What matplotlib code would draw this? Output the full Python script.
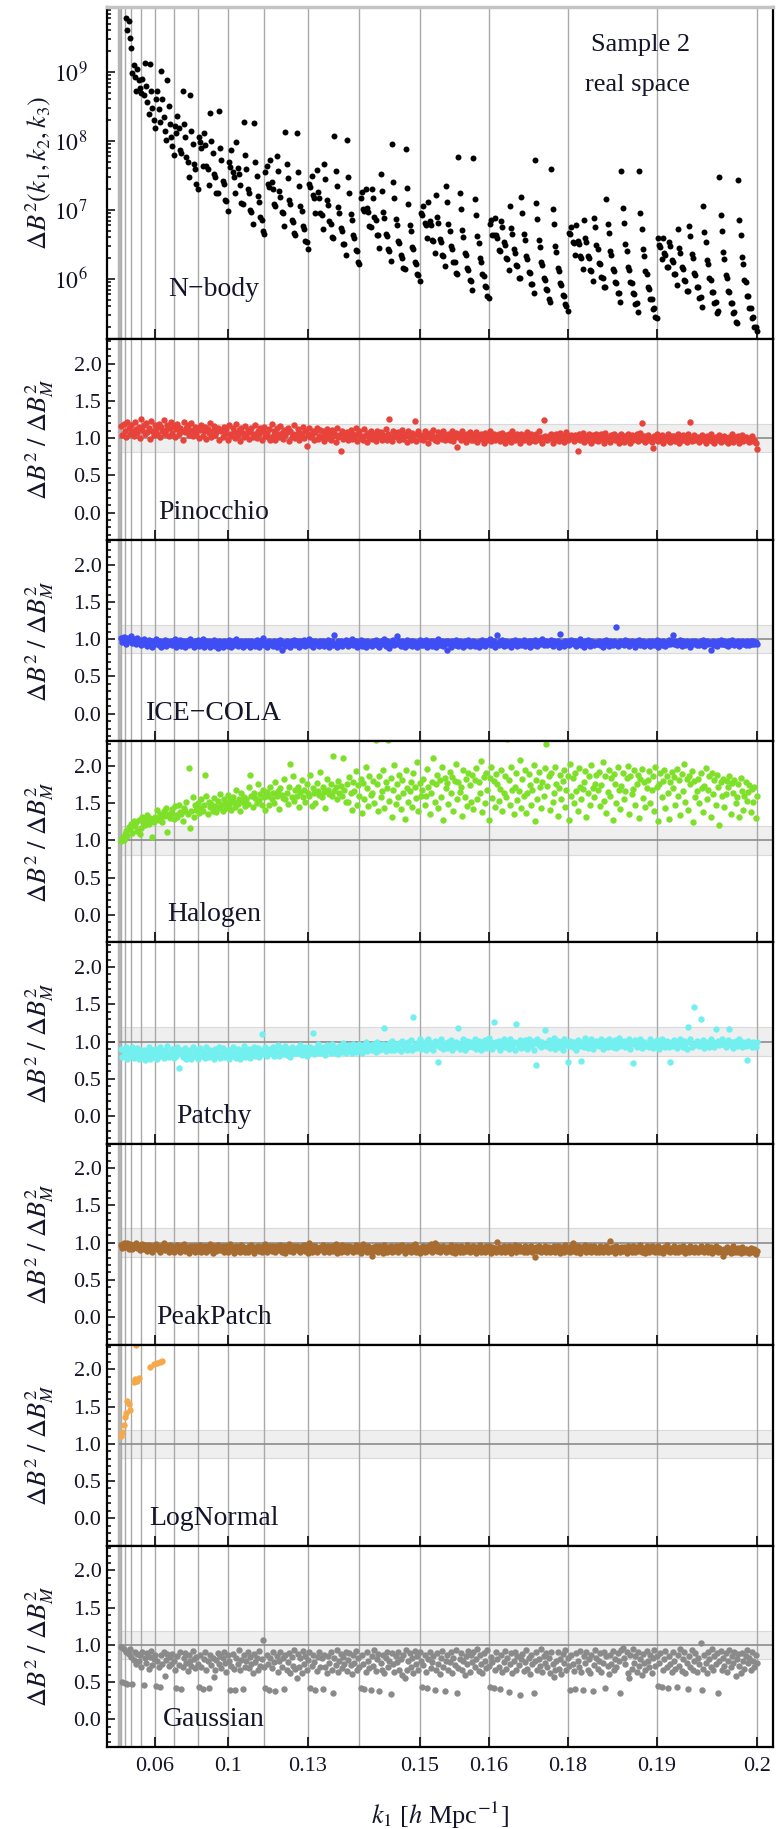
import numpy as np
import matplotlib
matplotlib.use("Agg")
import matplotlib.pyplot as plt
from matplotlib.ticker import MultipleLocator, LogLocator, NullFormatter, FuncFormatter

plt.rcParams['font.family'] = ['Liberation Serif', 'DejaVu Serif']
plt.rcParams['mathtext.fontset'] = 'stix'

# triangles per k1 bin (dk = 0.0125 h/Mpc), in plotting order
tri_per_bin = [1, 3, 5, 8, 11, 15, 19, 24, 29, 35, 41, 48, 55, 63, 71, 80]
# bins whose last triangle carries a k1 label
k1_tick_bins = [4, 7, 9, 11, 12, 13, 14, 15]
k1_tick_labels = ['0.06', '0.1', '0.13', '0.15', '0.16', '0.18', '0.19', '0.2']

# N-body variance, log10 of Delta B^2 (first four are above the frame)
nbody_log10 = [
    10.3, 10.2, 10.1, 10.05,
    9.78, 9.60, 9.74, 9.49, 9.34,
    8.98, 9.10, 8.93, 8.72, 9.04, 8.88, 8.76, 8.69,
    8.90, 8.66, 9.13, 8.80, 8.56, 8.39, 9.11, 8.72, 8.48, 8.31, 8.18,
    8.61, 8.72, 8.46, 8.27, 9.01, 8.60, 8.34, 8.15, 8.01, 8.88, 8.50, 8.24, 8.06, 7.92, 7.80,
    8.22, 8.12, 8.36, 8.18, 7.87, 7.82, 8.73, 8.24, 8.06, 7.76, 7.70, 7.47, 8.66, 8.14, 7.96,
    7.66, 7.60, 7.37, 7.31,
    8.06, 7.98, 7.90, 7.63, 8.12, 7.94, 7.64, 7.59, 7.36, 8.40, 8.00, 7.82, 7.52, 7.47, 7.24,
    7.24, 8.43, 7.89, 7.72, 7.42, 7.37, 7.14, 7.13, 6.99,
    7.70, 7.62, 7.87, 7.55, 7.48, 7.24, 7.98, 7.61, 7.52, 7.36, 7.10, 7.09, 8.28, 7.80, 7.60,
    7.31, 7.24, 7.00, 6.97, 6.80, 8.26, 7.70, 7.49, 7.20, 7.12, 6.90, 6.86, 6.70, 6.65,
    7.55, 7.64, 7.38, 7.33, 7.72, 7.40, 7.31, 7.09, 7.06, 7.78, 7.57, 7.27, 7.19, 6.97, 6.95,
    6.76, 8.13, 7.66, 7.46, 7.15, 7.09, 6.86, 6.83, 6.66, 6.64, 8.11, 7.55, 7.35, 7.05, 6.98,
    6.76, 6.72, 6.55, 6.54, 6.43,
    7.38, 7.33, 7.49, 7.22, 7.17, 6.96, 7.58, 7.26, 7.18, 6.95, 6.92, 6.73, 7.67, 7.45, 7.14,
    7.07, 6.84, 6.80, 6.61, 6.60, 8.07, 7.57, 7.35, 7.04, 6.96, 6.74, 6.70, 6.51, 6.50, 6.35,
    8.02, 7.47, 7.25, 6.94, 6.86, 6.63, 6.60, 6.42, 6.40, 6.25, 6.22,
    7.18, 7.26, 7.02, 6.99, 7.30, 7.03, 6.97, 6.76, 6.75, 7.31, 7.17, 6.90, 6.85, 6.64, 6.63,
    6.45, 7.52, 7.28, 6.97, 6.88, 6.65, 6.62, 6.44, 6.41, 6.26, 7.95, 7.41, 7.18, 6.87, 6.78,
    6.55, 6.52, 6.34, 6.31, 6.16, 6.15, 7.88, 7.32, 7.09, 6.78, 6.69, 6.47, 6.43, 6.25, 6.22,
    6.07, 6.06, 5.97,
    6.96, 6.93, 7.06, 6.81, 6.78, 6.60, 7.11, 6.84, 6.78, 6.57, 6.55, 6.37, 7.22, 6.90, 6.81,
    6.58, 6.54, 6.35, 6.33, 6.19, 7.34, 7.11, 6.80, 6.70, 6.48, 6.44, 6.25, 6.24, 6.08, 6.07,
    7.76, 7.25, 7.01, 6.71, 6.61, 6.38, 6.34, 6.16, 6.13, 5.98, 5.97, 5.84, 7.75, 7.16, 6.93,
    6.62, 6.52, 6.30, 6.25, 6.07, 6.04, 5.90, 5.88, 5.76, 5.72,
    6.79, 6.86, 6.64, 6.63, 6.88, 6.63, 6.60, 6.42, 6.40, 6.84, 6.75, 6.53, 6.49, 6.30, 6.29,
    6.13, 7.06, 6.74, 6.65, 6.43, 6.38, 6.20, 6.19, 6.02, 6.02, 7.19, 6.96, 6.65, 6.56, 6.33,
    6.29, 6.10, 6.09, 5.93, 5.92, 5.79, 7.73, 7.10, 6.87, 6.56, 6.47, 6.24, 6.20, 6.02, 5.99,
    5.85, 5.84, 5.71, 5.67, 7.60, 7.02, 6.79, 6.48, 6.39, 6.16, 6.12, 5.94, 5.91, 5.77, 5.76,
    5.63, 5.61, 5.53,
    6.66, 6.65, 6.75, 6.54, 6.52, 6.35, 6.78, 6.55, 6.51, 6.33, 6.31, 6.15, 6.85, 6.59, 6.53,
    6.33, 6.30, 6.13, 6.12, 5.97, 6.88, 6.75, 6.49, 6.43, 6.23, 6.21, 6.03, 6.02, 5.88, 5.88,
    7.16, 6.80, 6.66, 6.41, 6.34, 6.14, 6.11, 5.95, 5.94, 5.79, 5.79, 5.66, 7.57, 7.03, 6.81,
    6.50, 6.41, 6.18, 6.13, 5.96, 5.94, 5.79, 5.78, 5.64, 5.65, 5.52, 7.56, 6.96, 6.73, 6.43,
    6.33, 6.11, 6.07, 5.89, 5.86, 5.71, 5.71, 5.57, 5.58, 5.45, 5.43,
    6.60, 6.49, 6.46, 6.29, 6.59, 6.38, 6.35, 6.18, 6.17, 6.54, 6.48, 6.27, 6.25, 6.07, 6.07,
    5.91, 6.72, 6.45, 6.38, 6.18, 6.15, 5.98, 5.97, 5.82, 5.83, 6.76, 6.62, 6.36, 6.30, 6.09,
    6.06, 5.89, 5.89, 5.73, 5.74, 5.60, 7.06, 6.68, 6.54, 6.28, 6.22, 6.01, 5.98, 5.81, 5.81,
    5.65, 5.66, 5.51, 5.53, 7.47, 6.93, 6.70, 6.39, 6.29, 6.06, 6.02, 5.83, 5.81, 5.65, 5.65,
    5.50, 5.52, 5.38, 5.36, 7.44, 6.86, 6.63, 6.32, 6.22, 5.99, 5.95, 5.76, 5.75, 5.58, 5.58,
    5.43, 5.45, 5.31, 5.30, 5.24,
]

# ratios to N-body, in percent, one per triangle
pinocchio_pct = [
    116,104,119,110,101,122,113,106,118,109,103,121,112,107,115,100,126,111,117,105,
    120,108,114,99,123,110,104,117,112,106,119,102,115,109,124,105,111,118,103,113,
    121,107,116,101,112,119,105,114,110,98,122,108,113,117,104,111,120,103,109,115,
    106,114,100,111,118,103,109,115,99,112,107,120,102,110,116,104,108,113,97,111,
    109,101,115,105,112,98,117,106,103,114,108,100,119,104,111,96,113,107,102,116,
    104,111,99,108,114,102,106,118,100,110,105,113,97,109,115,103,107,101,112,98,
    119,103,109,97,113,105,101,116,107,99,111,104,108,114,96,110,102,106,117,100,
    105,112,98,107,103,115,100,109,90,106,113,101,104,110,97,108,114,99,103,111,
    102,109,96,106,112,100,105,98,111,103,107,95,113,101,104,83,110,99,106,102,
    108,97,104,111,99,106,102,113,96,105,109,100,103,98,112,104,95,107,101,110,
    99,106,103,96,110,101,105,108,97,104,100,112,98,106,126,102,96,109,103,107,
    101,108,97,104,111,99,103,106,95,109,102,98,107,100,123,96,105,110,99,104,
    103,97,109,101,105,94,107,100,104,111,98,102,96,108,101,105,99,110,97,103,
    100,106,98,104,109,96,102,107,88,101,105,97,110,99,103,95,106,100,108,98,
    104,97,101,108,95,103,99,106,100,93,107,102,98,104,110,96,101,105,97,103,
    99,105,96,102,107,100,94,104,98,106,101,95,109,103,97,102,105,99,93,106,
    101,97,104,99,108,95,102,106,98,103,96,105,100,109,97,101,94,124,103,99,
    97,103,100,106,94,101,98,105,102,96,107,99,103,95,101,108,97,102,100,104,
    102,96,104,99,83,105,98,101,107,95,103,100,97,106,99,93,104,101,98,105,
    96,103,99,105,101,94,107,98,102,100,95,104,99,106,97,101,103,93,100,105,
    101,95,103,98,106,100,93,104,97,102,99,105,96,101,107,120,98,103,95,100,
    104,97,100,95,87,103,99,106,96,101,98,104,94,100,102,97,105,99,95,103,
    99,103,96,101,105,94,100,98,104,97,102,95,106,99,122,96,101,104,97,100,
    102,95,100,104,97,99,93,103,98,101,105,96,100,94,102,99,97,104,95,101,
    98,103,96,100,94,102,99,105,95,98,101,97,103,93,100,104,96,99,102,97,
    100,95,99,103,96,98,93,85,
]

icecola_pct = [
    101,96,103,98,94,102,99,97,104,95,100,98,93,101,96,99,92,97,100,94,
    96,91,99,94,98,90,97,93,100,95,92,98,89,96,94,99,91,97,93,95,
    98,92,95,100,90,96,93,99,91,97,94,89,98,95,92,100,93,96,90,97,
    93,99,91,96,94,100,89,95,98,92,97,90,96,93,99,91,95,88,97,94,
    96,90,98,93,95,91,99,94,89,97,92,96,100,91,95,93,98,90,94,97,
    92,97,94,89,98,93,96,91,99,95,90,97,93,101,92,96,89,95,98,93,
    95,91,98,94,90,97,92,99,85,96,93,91,98,94,96,90,97,93,99,92,
    97,93,90,98,95,92,99,91,96,94,100,92,97,89,95,98,93,96,91,97,
    93,98,91,96,94,99,90,95,97,92,105,94,89,97,93,98,91,96,94,99,
    96,91,97,93,100,92,95,98,90,96,93,99,91,97,94,89,98,92,96,94,
    91,97,94,99,92,96,89,98,93,95,100,91,97,94,88,96,93,99,92,95,
    104,93,97,91,98,94,90,96,99,92,95,97,91,98,93,96,89,95,99,92,
    97,92,95,99,90,96,94,98,91,97,93,89,96,100,92,95,98,91,94,97,
    86,97,93,90,98,95,92,99,94,91,97,93,96,90,98,92,95,99,91,96,
    93,98,91,96,94,89,97,92,99,95,91,98,93,96,100,92,94,97,90,95,
    106,92,97,93,99,91,95,98,92,96,94,90,97,93,99,95,91,98,94,92,
    95,99,91,96,93,98,90,97,94,92,99,95,91,97,93,96,100,92,95,98,
    92,96,94,99,91,97,93,95,98,90,107,93,96,91,98,94,97,92,95,99,
    97,93,98,91,96,94,100,92,95,89,97,93,99,94,91,98,95,92,96,93,
    94,98,92,96,90,97,93,99,95,91,98,94,92,97,93,116,91,96,98,94,
    96,92,99,94,97,91,95,98,93,96,90,97,94,99,92,95,98,91,96,93,
    93,97,91,98,95,92,96,99,90,97,94,92,98,95,91,96,93,99,94,97,
    105,94,98,92,96,93,99,91,97,95,92,98,94,96,90,97,93,95,98,92,
    96,92,97,94,99,91,95,98,93,96,86,94,98,92,96,91,97,94,99,93,
    94,98,92,96,91,97,93,99,95,92,96,94,98,91,95,97,93,96,92,98,
    95,92,97,94,98,93,96,94,
]

halogen_pct = [
    99,103,101,108,112,106,118,115,122,110,126,119,124,113,128,108,117,131,125,120,
    128,134,122,130,126,105,124,132,129,141,127,135,131,125,139,133,144,111,136,130,
    137,142,129,146,134,131,148,138,135,126,143,140,151,136,197,116,139,158,132,147,
    141,150,137,144,155,139,148,188,160,136,152,145,149,140,157,146,138,153,144,162,
    147,139,156,150,143,161,148,154,141,158,151,145,167,149,156,140,163,152,158,146,
    155,149,171,188,160,145,164,157,150,176,154,162,148,168,158,141,165,159,147,172,
    156,163,150,178,159,166,142,170,161,157,183,155,164,149,172,202,158,186,153,168,
    160,171,145,165,181,158,167,152,175,163,159,188,146,170,164,150,177,166,161,192,
    158,172,165,144,183,168,162,176,159,213,166,171,155,180,164,173,160,210,167,152,
    175,152,185,163,141,178,166,193,148,174,160,182,137,177,155,198,170,146,186,161,
    164,180,150,235,175,139,187,158,166,194,144,178,170,235,153,184,131,167,201,149,
    176,158,188,142,181,163,129,195,170,152,166,179,145,190,172,157,205,139,177,160,
    167,182,148,159,196,171,136,164,178,210,152,175,188,143,181,158,199,127,184,170,
    177,149,192,163,185,140,180,202,155,179,165,171,133,195,158,183,146,190,174,151,
    188,142,181,197,156,179,163,206,138,185,150,191,168,128,184,199,157,180,145,189,
    175,153,169,194,140,164,187,158,236,181,147,198,167,135,171,190,154,166,208,144,
    182,159,195,137,163,189,174,148,168,201,126,181,155,192,172,143,178,160,197,230,
    173,186,141,191,152,164,199,175,133,170,188,156,180,194,145,168,186,127,203,159,
    184,150,190,166,139,197,172,155,169,179,193,131,163,187,148,201,170,158,175,188,
    167,192,146,174,205,153,186,137,165,195,160,184,128,189,176,150,198,168,142,173,
    190,155,166,184,200,136,187,162,169,194,148,175,188,130,183,196,157,178,145,170,
    181,193,150,168,187,139,199,171,126,175,190,158,180,195,144,186,163,129,178,192,
    170,185,147,196,160,181,134,189,166,202,152,183,141,187,175,193,124,180,158,166,
    182,150,191,170,138,173,197,156,168,186,131,190,162,181,147,188,172,121,178,160,
    183,145,162,180,171,187,136,177,164,181,150,158,176,132,184,166,141,160,178,153,
    165,174,138,169,152,171,130,160,
]

patchy_pct = [
    90,79,87,83,93,76,85,89,80,92,78,86,82,91,77,88,84,80,89,75,
    86,81,92,77,88,84,79,90,83,76,87,92,80,85,78,89,82,94,79,86,
    83,90,78,87,81,93,64,85,88,79,84,91,77,86,82,89,76,92,80,85,
    88,77,85,91,80,86,83,78,92,84,79,89,82,87,76,90,81,85,93,78,
    84,91,79,86,82,89,76,88,83,92,80,85,78,90,84,77,87,82,94,79,
    87,82,90,78,88,85,93,80,86,91,79,89,110,83,87,92,81,88,84,90,
    85,92,81,89,84,95,80,87,91,83,88,94,82,90,86,79,93,85,89,84,
    91,84,88,95,82,90,86,93,81,89,85,92,87,112,83,91,88,96,84,90,
    86,93,89,82,95,88,91,84,97,87,92,85,90,83,94,89,86,98,91,85,
    92,87,95,89,84,97,90,86,93,88,96,91,85,94,89,99,87,92,90,95,
    89,96,91,86,99,93,88,95,90,97,118,87,94,92,98,89,101,93,88,96,
    94,90,98,87,101,95,91,97,89,99,93,102,88,133,96,91,98,94,103,90,
    97,92,100,89,96,103,91,98,94,88,101,95,99,72,92,104,96,90,98,93,
    91,99,94,102,88,97,93,100,96,118,90,98,95,103,89,97,101,92,99,94,
    98,93,104,90,97,101,95,88,99,94,102,91,97,105,93,99,90,126,96,100,
    94,101,89,98,95,103,92,99,96,90,104,97,93,100,88,124,98,94,102,91,
    99,93,102,96,90,104,97,94,101,89,98,68,103,95,99,92,100,96,116,94,
    96,102,91,99,94,105,90,98,101,93,97,100,89,103,95,98,73,94,101,97,
    93,100,96,89,102,98,94,74,99,92,105,96,91,100,97,103,90,98,95,101,
    100,94,98,103,90,97,101,95,92,104,96,99,93,98,102,91,97,105,94,99,
    95,101,92,99,97,104,90,98,71,96,102,93,99,95,103,91,98,100,94,97,
    98,93,103,96,91,100,95,102,97,90,99,104,94,98,92,101,96,93,72,100,
    94,102,97,91,100,95,103,98,92,101,96,90,120,99,104,93,97,146,95,101,
    99,94,130,97,102,91,98,100,95,93,103,96,99,92,117,98,101,95,97,103,
    96,100,93,98,102,117,95,99,91,97,101,94,98,103,96,92,100,97,94,75,
    101,95,98,93,100,96,92,99,
]

peakpatch_pct = [
    97,93,99,94,96,100,92,98,95,91,97,94,99,93,96,90,95,98,92,97,
    94,89,97,92,95,88,96,93,98,91,94,87,96,92,99,90,95,93,88,97,
    92,96,88,94,90,97,93,87,95,91,98,89,94,92,86,96,90,95,93,88,
    95,89,93,97,88,94,91,96,87,93,90,98,92,86,95,91,89,97,93,90,
    91,96,88,93,95,87,92,98,90,94,86,93,96,89,92,88,97,91,94,87,
    93,88,95,90,97,92,86,94,91,96,89,93,87,95,92,98,88,94,90,96,
    89,95,91,87,96,93,90,97,88,92,95,86,94,91,98,89,93,87,95,92,
    96,90,93,88,95,91,97,89,94,86,99,92,88,95,91,96,87,93,90,94,
    91,97,88,94,90,96,87,92,95,89,93,98,86,94,91,88,97,92,89,95,
    88,93,96,90,94,87,92,97,89,95,91,86,94,98,90,93,88,96,91,87,
    82,94,89,96,91,87,95,90,93,86,97,92,88,94,90,96,87,93,89,95,
    93,88,95,90,97,92,86,94,89,96,91,87,95,92,98,88,94,90,86,93,
    90,96,87,93,89,95,91,98,88,92,100,94,89,96,87,93,90,95,91,88,
    94,89,92,97,88,93,86,95,90,94,88,96,91,87,93,89,97,92,88,94,
    89,95,91,86,94,90,97,88,93,91,87,95,89,96,92,86,94,90,93,88,
    101,90,94,88,92,96,87,93,89,95,91,86,94,90,97,88,92,95,89,91,
    93,88,96,91,87,94,90,95,88,92,81,94,89,96,91,87,93,90,95,88,
    90,94,87,93,89,96,88,92,95,90,86,94,91,88,97,92,89,93,87,95,
    100,89,93,88,95,91,86,94,90,92,97,88,93,89,95,87,92,96,90,88,
    92,87,95,90,88,94,91,96,87,93,102,89,94,91,86,95,90,92,88,94,
    89,94,91,86,95,90,93,88,96,91,87,94,89,92,97,88,93,90,86,95,
    93,88,92,96,89,94,87,91,95,88,93,90,86,94,91,97,89,92,88,93,
    90,95,88,92,87,94,91,89,96,90,86,93,91,88,95,89,92,87,94,90,
    88,92,95,89,93,87,91,96,88,90,94,86,92,89,95,91,87,93,90,88,
    82,91,87,94,89,92,86,90,95,88,91,87,93,89,86,94,90,88,92,87,
    90,86,93,89,88,91,85,89,
]

# LogNormal: only the first triangles fall inside the frame
lognormal_t = [0, 1, 2, 3, 4, 5, 6, 7, 10, 11, 12, 13, 14, 23, 26, 29, 31, 33]
lognormal_pct = [111, 116, 125, 136, 141, 158, 154, 145, 183, 187, 232, 184, 188,
                 203, 207, 209, 210, 211]

gaussian_pct = [
    97,50,94,49,91,48,88,95,84,47,80,91,74,88,78,86,70,90,46,82,
    76,89,68,84,92,73,81,87,45,79,71,43,86,74,90,58,80,88,72,84,
    75,88,79,67,42,85,73,91,41,70,83,89,76,65,86,79,72,92,81,69,
    84,74,43,87,70,41,81,90,67,78,42,86,73,83,57,66,80,89,75,85,
    69,82,91,76,64,86,79,40,72,88,68,39,83,74,93,66,80,41,87,71,
    78,90,69,84,75,63,88,77,83,67,92,72,81,106,70,42,86,74,40,83,
    69,90,77,38,85,64,79,91,71,82,41,87,66,77,89,62,84,72,93,68,
    56,88,71,83,63,92,75,85,67,80,90,42,72,87,77,40,65,84,91,70,
    82,41,87,71,62,85,76,90,67,35,82,73,93,64,79,88,69,84,74,90,
    65,80,89,73,61,86,76,92,67,82,70,42,87,74,41,64,90,79,69,40,
    85,72,93,65,81,88,38,76,67,87,62,83,91,70,79,34,89,74,64,85,
    77,90,67,81,60,87,55,93,66,79,89,71,83,63,92,74,85,67,90,79,
    44,73,87,64,42,81,90,69,77,85,40,67,89,74,61,83,92,70,38,79,
    87,66,77,90,63,83,73,93,35,69,81,89,67,79,59,85,75,92,64,87,
    77,90,70,81,95,65,87,74,62,89,79,69,93,72,44,84,77,42,66,90,
    81,70,41,87,64,77,92,68,83,37,74,89,62,79,90,67,85,73,33,81,
    88,65,77,93,68,83,61,87,75,36,79,90,66,81,72,94,64,85,76,89,
    70,83,63,91,74,57,66,79,90,68,81,61,88,76,93,66,83,72,40,87,
    75,65,41,89,79,70,92,64,39,85,76,90,67,81,62,87,38,73,93,83,
    68,79,89,64,76,90,42,85,72,61,87,74,92,66,81,70,89,79,35,93,
    96,83,74,90,63,56,87,68,94,76,85,64,90,72,81,60,88,76,66,92,
    79,70,87,63,83,93,72,85,45,76,89,43,66,81,92,70,42,85,74,64,
    90,79,68,44,87,72,94,65,81,90,62,76,41,85,70,93,66,79,89,64,
    83,74,102,40,68,87,76,63,90,81,70,94,66,85,74,89,36,79,92,67,
    83,72,89,64,79,93,70,85,76,90,58,81,88,72,62,89,79,68,85,93,
    76,83,67,90,79,70,87,76,
]

n_tri = len(nbody_log10)
tri = np.arange(n_tri)
bin_ends = np.cumsum(tri_per_bin) - 1
tick_pos = bin_ends[k1_tick_bins]

panels = [
    ('Pinocchio', tri, pinocchio_pct, '#e8433a'),
    ('ICE\u2212COLA', tri, icecola_pct, '#3f4df5'),
    ('Halogen', tri, halogen_pct, '#7fe02a'),
    ('Patchy', tri, patchy_pct, '#72f0f0'),
    ('PeakPatch', tri, peakpatch_pct, '#a86c30'),
    ('LogNormal', np.array(lognormal_t), lognormal_pct, '#f5a94a'),
    ('Gaussian', tri, gaussian_pct, '#8a8a8a'),
]

W, H = 776, 1829
X0, X1 = 107, 773
TXT = '#15152a'
fig = plt.figure(figsize=(W / 100, H / 100), dpi=100)


def add_panel(top, bottom):
    return fig.add_axes([X0 / W, 1 - bottom / H, (X1 - X0) / W, (bottom - top) / H])


def style_common(ax, last):
    ax.set_xlim(-11.2, 519.8)
    for x in bin_ends:
        ax.axvline(x, color='#a9a9a9', lw=1.0, zorder=0.5)
    ax.axvline(-1.5, color='#b5b5b5', lw=2.5, zorder=0.5)
    for s in ax.spines.values():
        s.set_linewidth(1.6)
        s.set_color('black')
    ax.set_xticks(tick_pos)
    ax.tick_params(axis='x', direction='in', length=7, width=1.4, color='#222222',
                   labelsize=16, labelcolor=TXT, pad=7, labelbottom=last)
    if last:
        ax.set_xticklabels(k1_tick_labels)
    ax.tick_params(axis='y', which='both', direction='in', right=False,
                   labelsize=16, labelcolor=TXT, width=1.1)
    ax.tick_params(axis='y', which='major', length=5.5)
    ax.tick_params(axis='y', which='minor', length=3)


# top panel: N-body variance
ax0 = add_panel(7, 339)
style_common(ax0, False)
ax0.set_yscale('log')
ax0.set_ylim(10 ** 5.13, 10 ** 9.94)
ax0.plot(tri, 10 ** np.array(nbody_log10), 'o', ms=4.3, mew=0, color='black', zorder=2)
ax0.yaxis.set_major_locator(LogLocator(base=10, numticks=10))
ax0.yaxis.set_minor_locator(LogLocator(base=10, subs=np.arange(2, 10), numticks=20))
ax0.yaxis.set_minor_formatter(NullFormatter())
ax0.yaxis.set_major_formatter(FuncFormatter(lambda v, p: r'$10^{%d}$' % round(np.log10(v))))
ax0.tick_params(axis='y', which='major', pad=14, labelsize=17)
ax0.spines['top'].set_color('#c4c4c4')
ax0.spines['top'].set_linewidth(2.5)
ax0.text(74, 10 ** 5.84, 'N\u2212body', ha='center', va='center', fontsize=20, color=TXT)
fig.text(690 / W, 1 - 45 / H, 'Sample 2', ha='right', va='center', fontsize=19, color=TXT)
fig.text(690 / W, 1 - 85 / H, 'real space', ha='right', va='center', fontsize=19, color=TXT)
fig.text(38 / W, 1 - 173 / H, r'$\Delta B^2(k_1,k_2,k_3)$', rotation=90,
         ha='center', va='center', fontsize=19, color=TXT)

panel_h = (1747 - 339) / 7
for k, (name, xs, pct, col) in enumerate(panels):
    top = 339 + panel_h * k
    ax = add_panel(top, top + panel_h)
    last = k == len(panels) - 1
    style_common(ax, last)
    ax.set_ylim(-0.37, 2.33)
    ax.fill_between([-1.5, 530], 0.81, 1.19, color='#efefef', lw=0, zorder=0.3)
    ax.hlines([0.81, 1.19], -1.5, 530, color='#dadada', lw=0.8, zorder=0.35)
    ax.hlines(1.0, -1.5, 530, color='#8c8c8c', lw=1.2, zorder=0.6)
    ax.plot(xs, np.array(pct) / 100.0, 'o', ms=4.6, mew=0, color=col, zorder=2)
    ax.yaxis.set_major_locator(MultipleLocator(0.5))
    ax.yaxis.set_minor_locator(MultipleLocator(0.1))
    ax.yaxis.set_major_formatter(FuncFormatter(lambda v, p: '%.1f' % v))
    ax.tick_params(axis='y', which='major', pad=4)
    ax.text(74, 0.0, name, ha='center', va='center', fontsize=20, color=TXT)
    fig.text(40 / W, 1 - (top + panel_h / 2) / H, r'$\Delta B^2\ /\ \Delta B^2_M$',
             rotation=90, ha='center', va='center', fontsize=19, color=TXT)

fig.text(440 / W, 1 - 1815 / H, r'$k_1$ [$h$ Mpc$^{-1}$]', ha='center', va='center',
         fontsize=19, color=TXT)

fig.savefig('out.png', dpi=100)
